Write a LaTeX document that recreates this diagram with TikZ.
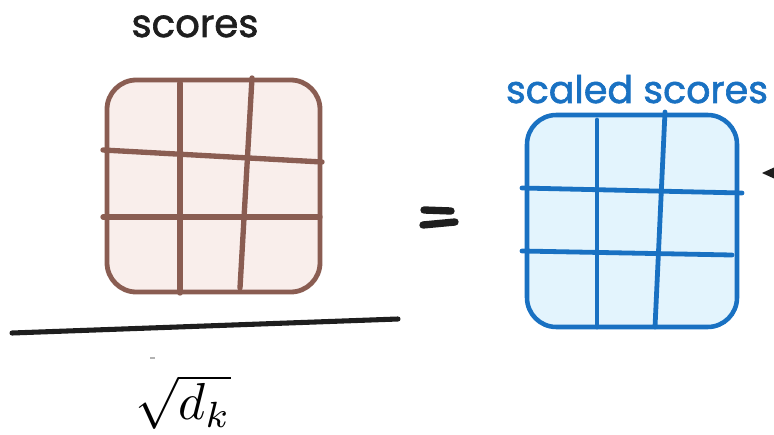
\documentclass[tikz,border=0pt]{standalone}
\usepackage{fontspec}
\newfontfamily\handfont[FakeBold=1.6]{Poppins}
\definecolor{scorebrown}{HTML}{8A5D52}
\definecolor{scorefill}{HTML}{F9EEEB}
\definecolor{scaledblue}{HTML}{1971C2}
\definecolor{scaledfill}{HTML}{E3F4FD}
\definecolor{ink}{HTML}{1E1E1E}
\begin{document}
\begin{tikzpicture}[x=0.75pt,y=-0.75pt,
  brownbox/.style={draw=scorebrown, fill=scorefill, line width=3.6pt, rounded corners=22pt},
  browngrid/.style={draw=scorebrown, line width=4pt, line cap=round},
  bluebox/.style={draw=scaledblue, fill=scaledfill, line width=3.4pt, rounded corners=22pt},
  bluegrid/.style={draw=scaledblue, line width=3.6pt, line cap=round},
  inkbar/.style={draw=ink, line cap=round},
  handlabel/.style={inner sep=0pt, anchor=base}]
\useasboundingbox (0,0) rectangle (774,435);

% unscaled score matrix
\path[brownbox] (107,80) rectangle (320,292);
\draw[browngrid] (180,83) -- (180,293);
\draw[browngrid] (252,78) -- (240,288);
\draw[browngrid] (103,150) -- (322,162);
\draw[browngrid] (103,217) -- (320,217);
\node[handlabel, font=\handfont\fontsize{29}{32}\selectfont, text=ink] (scoreslbl) at (195,37) {scores};

% fraction bar and denominator
\draw[inkbar, line width=3.8pt] (12,333) -- (398,319);
\draw[gray!60, line width=0.8pt] (150,358) -- (155,358);
\node[inner sep=0pt, scale=3.9] (denom) at (183,402) {$\sqrt{d_k}$};

% equals sign
\draw[inkbar, line width=5.5pt] (424,210) -- (451,211);
\draw[inkbar, line width=5.5pt] (423,225) -- (455,222);

% scaled score matrix
\path[bluebox] (527,115) rectangle (737,327);
\draw[bluegrid] (597,120) -- (597,327);
\draw[bluegrid] (665,112) -- (655,327);
\draw[bluegrid] (522,188) -- (742,193);
\draw[bluegrid] (522,251) -- (732,255);
\node[handlabel, font=\handfont\fontsize{28.5}{31}\selectfont, text=scaledblue] (scaledlbl) at (637,103) {scaled scores};

% incoming arrow tip at the right edge
\fill[ink] (762,173) -- (774,167.5) -- (774,178.5) -- cycle;
\end{tikzpicture}
\end{document}
